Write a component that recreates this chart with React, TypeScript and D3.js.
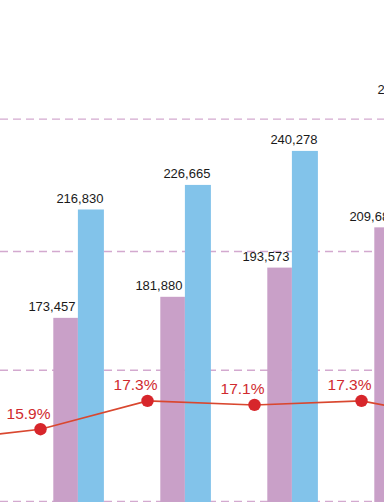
import React from "react";
import * as d3 from "d3";

const categories = ["G0", "G1", "G2", "G3", "G4", "G5"];
const seriesA = [165000, 173457, 181880, 193573, 209684, 225000];
const seriesB = [205000, 216830, 226665, 240278, 260357, 275000];
const ratio = [15.3, 15.9, 17.3, 17.1, 17.3, 16.3];
const gridValues = [100000, 152500, 200000, 253000];

const W = 384;
const H = 502;

export default function App() {
  const x = d3.scaleBand<string>().domain(categories).range([-69.1, -69.1 + 107 * 6]).paddingInner(0).paddingOuter(0);
  const bandStart = (c: string) => (x(c) as number) + 15.4;
  const y = d3.scaleLinear().domain([0, 300000]).range([751.2, 1.7]);
  const p = d3.scaleLinear().domain([0, 20]).range([751.2, 346.2]);
  const wA = 24.6;
  const wB = 26;
  const dotX = (c: string) => bandStart(c) - 12.8;

  const line = d3
    .line<number>()
    .x((_, i) => dotX(categories[i]))
    .y((d) => p(d));

  const font = "'Liberation Sans', Arial, Helvetica, sans-serif";
  const visible = (px: number) => px > -10 && px < W + 10;

  return (
    <svg width={W} height={H} style={{ position: "absolute", left: 0, top: 0, background: "#fff" }}>
      <rect x={0} y={0} width={W} height={H} fill="#fff" />
      {gridValues.map((g) => (
        <line key={g} x1={0} x2={W} y1={y(g)} y2={y(g)} stroke="#d3a9cf" strokeWidth={1.4} strokeDasharray="8,5" />
      ))}
      {categories.map((c, i) => {
        const x0 = bandStart(c);
        return (
          <g key={c}>
            <rect x={x0} y={y(seriesA[i])} width={wA} height={H - y(seriesA[i]) + 300} fill="#c9a0c8" />
            <rect x={x0 + wA} y={y(seriesB[i])} width={wB} height={H - y(seriesB[i]) + 300} fill="#82c3ea" />
            {visible(x0) && (
              <text x={x0 + wA - 2.5} y={y(seriesA[i]) - 6.5} textAnchor="end" fontFamily={font} fontSize={13} fill="#1a1a1a">
                {d3.format(",")(seriesA[i])}
              </text>
            )}
            {visible(x0) && (
              <text x={x0 + wA + wB - 0.5} y={y(seriesB[i]) - 6.5} textAnchor="end" fontFamily={font} fontSize={13} fill="#1a1a1a">
                {d3.format(",")(seriesB[i])}
              </text>
            )}
          </g>
        );
      })}
      <path d={line(ratio) || ""} fill="none" stroke="#d9472f" strokeWidth={1.6} />
      {categories.map((c, i) =>
        visible(dotX(c)) ? (
          <g key={"d" + c}>
            <circle cx={dotX(c)} cy={p(ratio[i])} r={6.2} fill="#d7262b" />
            <text x={dotX(c) - 12} y={p(ratio[i]) - 10.5} textAnchor="middle" fontFamily={font} fontSize={15.5} fill="#d02a2e">
              {ratio[i].toFixed(1) + "%"}
            </text>
          </g>
        ) : null
      )}
    </svg>
  );
}
